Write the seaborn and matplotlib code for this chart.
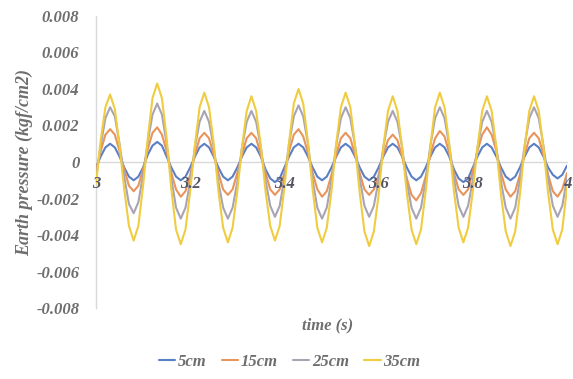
import numpy as np
import pandas as pd
import matplotlib
matplotlib.use("Agg")
import matplotlib.pyplot as plt
import seaborn as sns
from matplotlib.lines import Line2D

# ---- data (kgf/cm2), sampled every 0.01 s from 3.00 s to 4.00 s ----
time_s = np.round(np.linspace(3.0, 4.0, 101), 2)

p_5cm = [
    -3e-4, 3e-4, 8e-4, 10e-4, 8e-4, 3e-4, -3e-4, -8e-4, -10e-4, -8e-4,
    -3e-4, 4e-4, 9e-4, 11e-4, 9e-4, 3e-4, -3e-4, -8e-4, -10e-4, -8e-4,
    -3e-4, 3e-4, 8e-4, 10e-4, 8e-4, 3e-4, -3e-4, -8e-4, -10e-4, -8e-4,
    -3e-4, 3e-4, 8e-4, 10e-4, 8e-4, 3e-4, -4e-4, -9e-4, -11e-4, -9e-4,
    -3e-4, 3e-4, 8e-4, 10e-4, 8e-4, 3e-4, -3e-4, -8e-4, -10e-4, -8e-4,
    -3e-4, 3e-4, 8e-4, 10e-4, 8e-4, 3e-4, -3e-4, -8e-4, -10e-4, -8e-4,
    -3e-4, 3e-4, 8e-4, 10e-4, 8e-4, 3e-4, -3e-4, -8e-4, -10e-4, -8e-4,
    -3e-4, 3e-4, 8e-4, 10e-4, 8e-4, 3e-4, -4e-4, -9e-4, -11e-4, -9e-4,
    -3e-4, 3e-4, 8e-4, 10e-4, 8e-4, 3e-4, -3e-4, -8e-4, -10e-4, -8e-4,
    -3e-4, 3e-4, 8e-4, 10e-4, 8e-4, 3e-4, -3e-4, -7e-4, -9e-4, -7e-4,
    -2e-4,
]

p_15cm = [
    -5e-4, 6e-4, 15e-4, 18e-4, 15e-4, 6e-4, -4e-4, -13e-4, -16e-4, -13e-4,
    -4e-4, 7e-4, 16e-4, 19e-4, 15e-4, 6e-4, -6e-4, -15e-4, -19e-4, -16e-4,
    -7e-4, 4e-4, 13e-4, 16e-4, 13e-4, 4e-4, -6e-4, -15e-4, -18e-4, -15e-4,
    -6e-4, 4e-4, 13e-4, 16e-4, 13e-4, 4e-4, -6e-4, -15e-4, -18e-4, -15e-4,
    -6e-4, 6e-4, 15e-4, 18e-4, 14e-4, 5e-4, -6e-4, -15e-4, -19e-4, -16e-4,
    -7e-4, 4e-4, 13e-4, 16e-4, 13e-4, 4e-4, -6e-4, -15e-4, -18e-4, -15e-4,
    -7e-4, 4e-4, 12e-4, 15e-4, 12e-4, 3e-4, -9e-4, -18e-4, -21e-4, -17e-4,
    -8e-4, 4e-4, 13e-4, 17e-4, 14e-4, 5e-4, -6e-4, -15e-4, -18e-4, -15e-4,
    -5e-4, 6e-4, 15e-4, 19e-4, 15e-4, 6e-4, -6e-4, -15e-4, -19e-4, -16e-4,
    -7e-4, 4e-4, 13e-4, 16e-4, 13e-4, 4e-4, -7e-4, -16e-4, -19e-4, -15e-4,
    -6e-4,
]

p_25cm = [
    -9e-4, 9e-4, 24e-4, 30e-4, 25e-4, 10e-4, -8e-4, -23e-4, -28e-4, -22e-4,
    -7e-4, 11e-4, 26e-4, 32e-4, 26e-4, 10e-4, -9e-4, -25e-4, -31e-4, -25e-4,
    -11e-4, 8e-4, 22e-4, 28e-4, 22e-4, 8e-4, -11e-4, -25e-4, -31e-4, -25e-4,
    -11e-4, 8e-4, 22e-4, 28e-4, 22e-4, 8e-4, -10e-4, -24e-4, -30e-4, -24e-4,
    -9e-4, 10e-4, 25e-4, 31e-4, 25e-4, 10e-4, -10e-4, -25e-4, -31e-4, -25e-4,
    -10e-4, 9e-4, 24e-4, 30e-4, 24e-4, 9e-4, -9e-4, -24e-4, -30e-4, -24e-4,
    -10e-4, 8e-4, 22e-4, 28e-4, 22e-4, 8e-4, -11e-4, -25e-4, -31e-4, -25e-4,
    -10e-4, 9e-4, 24e-4, 30e-4, 24e-4, 9e-4, -9e-4, -24e-4, -30e-4, -24e-4,
    -10e-4, 8e-4, 22e-4, 28e-4, 22e-4, 8e-4, -11e-4, -25e-4, -31e-4, -25e-4,
    -10e-4, 9e-4, 24e-4, 30e-4, 24e-4, 9e-4, -9e-4, -24e-4, -30e-4, -24e-4,
    -9e-4,
]

p_35cm = [
    -12e-4, 12e-4, 30e-4, 37e-4, 29e-4, 9e-4, -15e-4, -35e-4, -43e-4, -35e-4,
    -13e-4, 13e-4, 35e-4, 43e-4, 35e-4, 13e-4, -15e-4, -37e-4, -45e-4, -37e-4,
    -16e-4, 9e-4, 30e-4, 38e-4, 30e-4, 10e-4, -16e-4, -36e-4, -44e-4, -36e-4,
    -16e-4, 8e-4, 28e-4, 36e-4, 28e-4, 9e-4, -16e-4, -35e-4, -43e-4, -35e-4,
    -14e-4, 11e-4, 32e-4, 40e-4, 32e-4, 11e-4, -15e-4, -36e-4, -44e-4, -36e-4,
    -16e-4, 10e-4, 30e-4, 38e-4, 30e-4, 9e-4, -17e-4, -38e-4, -46e-4, -38e-4,
    -18e-4, 8e-4, 28e-4, 36e-4, 28e-4, 8e-4, -17e-4, -37e-4, -45e-4, -37e-4,
    -16e-4, 9e-4, 30e-4, 38e-4, 30e-4, 10e-4, -16e-4, -36e-4, -44e-4, -36e-4,
    -16e-4, 8e-4, 28e-4, 36e-4, 28e-4, 8e-4, -18e-4, -38e-4, -46e-4, -38e-4,
    -18e-4, 8e-4, 28e-4, 36e-4, 28e-4, 8e-4, -17e-4, -37e-4, -45e-4, -37e-4,
    -14e-4,
]

series_names = ["5cm", "15cm", "25cm", "35cm"]
series_vals = [p_5cm, p_15cm, p_25cm, p_35cm]
colors = ["#5B7FC4", "#E8945A", "#A8A4B4", "#F0CC40"]

x_ticks = [3.0, 3.2, 3.4, 3.6, 3.8, 4.0]
x_tick_labels = ["3", "3.2", "3.4", "3.6", "3.8", "4"]
y_ticks = [0.008, 0.006, 0.004, 0.002, 0.0, -0.002, -0.004, -0.006, -0.008]
y_tick_labels = ["0.008", "0.006", "0.004", "0.002", "0", "-0.002", "-0.004", "-0.006", "-0.008"]

df = pd.concat(
    [pd.DataFrame({"time": time_s, "value": v, "series": n}) for n, v in zip(series_names, series_vals)],
    ignore_index=True,
)

sns.set_theme(style="white")
plt.rcParams["font.family"] = ["Liberation Serif", "DejaVu Serif"]

fig = plt.figure(figsize=(5.73, 3.79), dpi=100)
ax = fig.add_axes([0.1675, 0.187, 0.822, 0.771])

sns.lineplot(
    data=df, x="time", y="value", hue="series", hue_order=series_names,
    palette=colors, linewidth=1.5, legend=False, ax=ax, sort=False,
)

# spines first (set_position resets the ticks)
for s in ["top", "right"]:
    ax.spines[s].set_visible(False)
ax.spines["bottom"].set_position(("data", 0))
ax.spines["bottom"].set_color("#D9D9D9")
ax.spines["bottom"].set_linewidth(1.0)
ax.spines["bottom"].set_zorder(0.5)
ax.spines["left"].set_color("#D9D9D9")
ax.spines["left"].set_linewidth(1.0)
ax.spines["left"].set_zorder(0.5)
ax.set_axisbelow(False)
ax.grid(False)

ax.set_xlim(3.0, 4.0)
ax.set_ylim(-0.008, 0.008)

tick_color = "#6E6E6E"
font_kw = dict(fontweight="bold", fontstyle="italic", fontsize=12, family="Liberation Serif")
ax.set_xticks(x_ticks)
ax.set_xticklabels(x_tick_labels, color="#555566", **font_kw)
ax.set_yticks(y_ticks)
ax.set_yticklabels(y_tick_labels, color=tick_color, **font_kw)

ax.tick_params(axis="x", length=0, pad=10)
ax.tick_params(axis="y", length=0, pad=12)

ax.set_xlabel("")
ax.set_ylabel("")
fig.text(0.042, 0.572, "Earth pressure (kgf/cm2)", rotation=90, ha="center", va="center",
         fontsize=13, fontweight="bold", fontstyle="italic", color=tick_color)
fig.text(0.572, 0.142, "time (s)", ha="center", va="center",
         fontsize=12, fontweight="bold", fontstyle="italic", color=tick_color)

handles = [Line2D([0], [0], color=c, lw=1.5) for c in colors]
leg = fig.legend(
    handles, series_names, loc="center", bbox_to_anchor=(0.505, 0.045), ncol=4,
    frameon=False, handlelength=1.0, handletextpad=0.15, columnspacing=0.9,
    prop={"family": "Liberation Serif", "weight": "bold", "style": "italic", "size": 12},
)
for t in leg.get_texts():
    t.set_color(tick_color)

fig.savefig("out.png", dpi=100)
